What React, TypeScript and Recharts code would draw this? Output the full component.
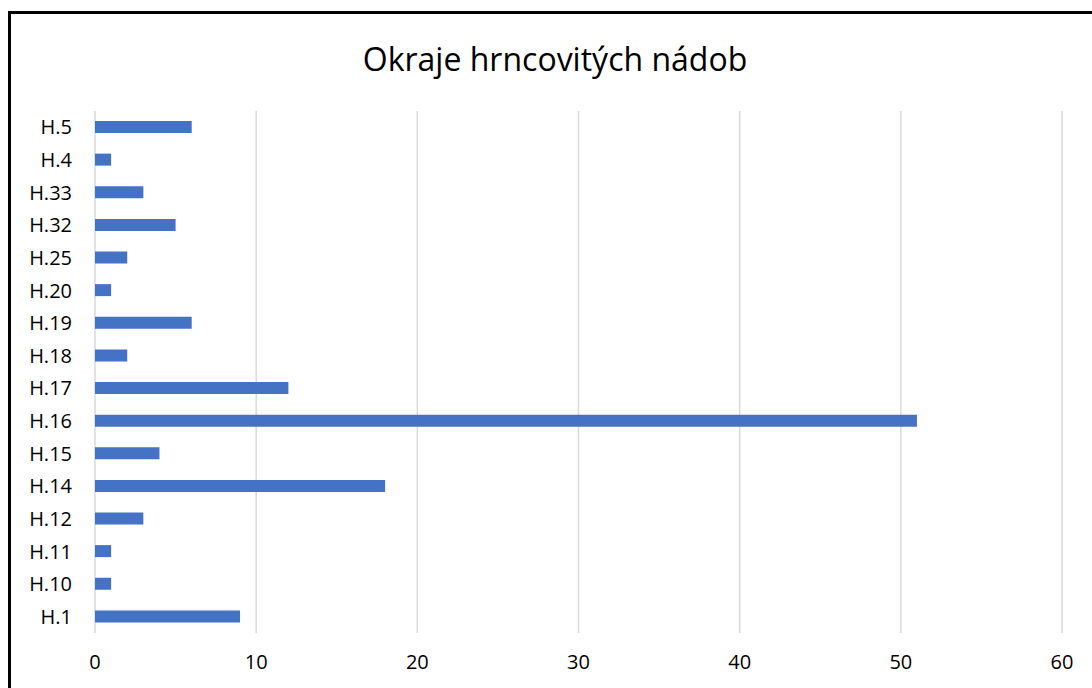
import { Bar, BarChart, CartesianGrid, XAxis, YAxis } from "recharts"

const categories = ["H.1", "H.10", "H.11", "H.12", "H.14", "H.15", "H.16", "H.17", "H.18", "H.19", "H.20", "H.25", "H.32", "H.33", "H.4", "H.5"]
const counts = [9, 1, 1, 3, 18, 4, 51, 12, 2, 6, 1, 2, 5, 3, 1, 6]
const xTicks = [0, 10, 20, 30, 40, 50, 60]

const data = categories.map((name, i) => ({ name, value: counts[i] }))

const font = "'Open Sans', 'Liberation Sans', sans-serif"

export default function App() {
  return (
    <div style={{ position: "fixed", left: 0, top: 0, width: 1092, height: 688, overflow: "hidden", background: "#fff", fontFamily: font }}>
      <div style={{ position: "absolute", left: 8, top: 11, width: 1130, height: 720, border: "3px solid #000" }} />
      <div style={{ position: "absolute", left: 0, width: 1110, top: 37, textAlign: "center", fontSize: 32, color: "#000", lineHeight: "44px" }}>
        Okraje hrncovitých nádob
      </div>
      <div style={{ position: "absolute", left: 0, top: 0 }}>
        <BarChart width={1092} height={688} data={data} layout="vertical" margin={{ top: 111, right: 30, left: 0, bottom: 0 }}>
          <CartesianGrid horizontal={false} stroke="#d9d9d9" strokeWidth={1.5} />
          <XAxis
            type="number"
            domain={[0, 60]}
            ticks={xTicks}
            axisLine={false}
            tickLine={false}
            tickSize={0}
            tickMargin={22}
            height={55}
            tick={{ fill: "#000", fontSize: 20, fontFamily: font }}
          />
          <YAxis
            type="category"
            dataKey="name"
            reversed
            width={95}
            axisLine={false}
            tickLine={false}
            tickSize={0}
            tickMargin={23}
            interval={0}
            tick={{ fill: "#000", fontSize: 20, fontFamily: font }}
          />
          <Bar dataKey="value" fill="#4472C4" barSize={12} isAnimationActive={false} />
        </BarChart>
      </div>
    </div>
  )
}
